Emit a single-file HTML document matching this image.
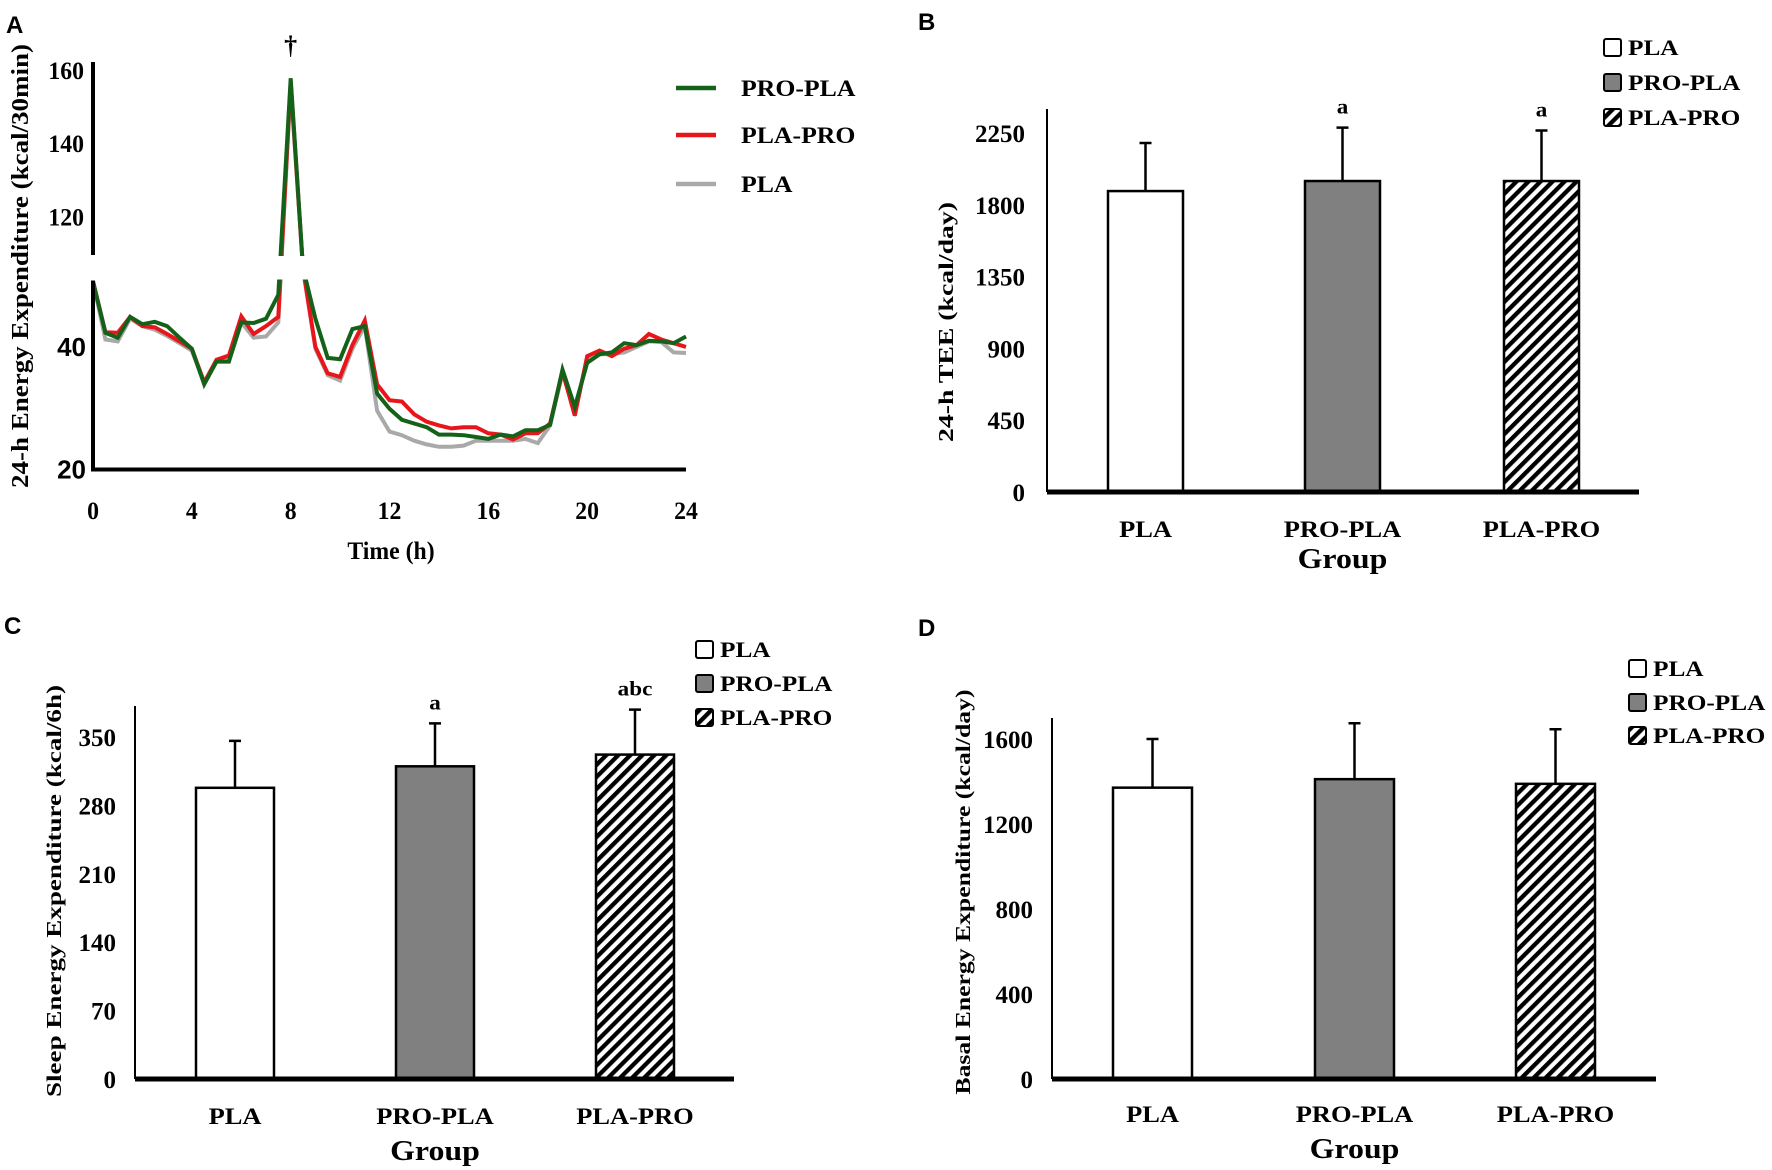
<!DOCTYPE html>
<html><head><meta charset="utf-8">
<style>
html,body{margin:0;padding:0;background:#fff;}
svg{display:block;}
text{font-family:"Liberation Serif",serif;font-weight:bold;fill:#000;}
.sans{font-family:"Liberation Sans",sans-serif;}
</style></head>
<body>
<svg id="fig" width="1772" height="1170" viewBox="0 0 1772 1170" xmlns="http://www.w3.org/2000/svg">
<defs>
<pattern id="hatch" patternUnits="userSpaceOnUse" width="8.5" height="8.5" patternTransform="rotate(45)">
<rect width="8.5" height="8.5" fill="#fff"/>
<rect width="4.3" height="8.5" fill="#000"/>
</pattern>
</defs>
<g id="pA"></g>
<g id="pB"></g>
<g id="pC"></g>
<g id="pD"></g>
</svg>
<script>
// ---------- Panel A data ----------
const timeHours = [0,0.5,1,1.5,2,2.5,3,3.5,4,4.5,5,5.5,6,6.5,7,7.5,8,8.5,9,9.5,10,10.5,11,11.5,12,12.5,13,13.5,14,14.5,15,15.5,16,16.5,17,17.5,18,18.5,19,19.5,20,20.5,21,21.5,22,22.5,23,23.5,24];
const proPlaValues = [50.7,42.3,41.5,44.9,43.7,44.1,43.4,41.5,39.7,33.9,37.6,37.6,44,43.9,44.6,48.5,158,80,44.6,38.2,38,42.9,43.4,32.4,29.9,28.1,27.5,26.9,25.7,25.7,25.6,25.3,25,25.7,25.4,26.4,26.4,27.3,36.3,30.2,37.4,38.8,39.1,40.6,40.3,41,40.9,40.6,41.7];
const plaProValues = [50.7,42.4,42.3,44.9,43.4,43.2,42.1,40.9,39.7,34.2,37.9,38.6,45,42.1,43.4,44.9,157,78,40,35.7,35.1,40.3,44.3,33.9,31.3,31.1,29,27.8,27.2,26.7,26.9,26.9,25.9,25.7,24.9,25.9,25.9,27.5,36,28.8,38.5,39.4,38.5,39.7,40.3,42.1,41.2,40.6,40];
const plaValues = [50.7,41.2,40.9,44.6,43.4,42.8,41.8,40.6,39.4,34.2,37.6,38.2,44,41.5,41.7,44,156,77,39.7,35.4,34.5,39.7,43.4,29.6,26.2,25.6,24.7,24.1,23.7,23.7,23.9,24.7,24.7,24.7,24.7,25,24.3,27.2,35.7,29.6,37.9,38.8,38.8,39.1,40,40.9,40.8,39.1,39];
const xTicksA = [0,4,8,12,16,20,24];
const yTicksUpperA = [160,140,120];
const yTicksLowerA = [40,20];

// ---------- Bar panels data ----------
const groups = ["PLA","PRO-PLA","PLA-PRO"];
const teeMeans = [1886,1949,1949];
const teeErrTop = [2187,2284,2266];
const teeTicks = [0,450,900,1350,1800,2250];
const teeLetters = ["","a","a"];
const sleepMeans = [298,320,332];
const sleepErrTop = [346,364,378];
const sleepTicks = [0,70,140,210,280,350];
const sleepLetters = ["","a","abc"];
const basalMeans = [1371,1411,1389];
const basalErrTop = [1600,1674,1646];
const basalTicks = [0,400,800,1200,1600];
const basalLetters = ["","",""];

const NS="http://www.w3.org/2000/svg";
function mk(parent,tag,attrs){const e=document.createElementNS(NS,tag);for(const k in attrs)e.setAttribute(k,attrs[k]);parent.appendChild(e);return e;}
function txt(parent,x,y,s,size,anchor,sx,cls){
  const e=mk(parent,'text',{transform:`translate(${x},${y}) scale(${sx||1},1)`,'font-size':size,'text-anchor':anchor||'start'});
  if(cls)e.setAttribute('class',cls);
  e.textContent=s;return e;}

// ---------- Panel A ----------
(function(){
  const g=document.getElementById('pA');
  const x0=93, x1=686;
  const xA=t=>x0+(x1-x0)*t/24;
  const lowTop=280.5, upBot=255;
  const yA=v=>{
    if(v<=50.8) return 469.5-(v-20)*6.13;
    if(v>=109.7) return 71+(160-v)*3.66;
    return lowTop-(v-50.8)/(109.7-50.8)*(lowTop-upBot);
  };
  const lab=txt(g,6,33,"A",24,'start',1,'sans');
  
  
  const series=[[plaValues,'#a9a9a9','series-pla'],[plaProValues,'#e8161b','series-pla-pro'],[proPlaValues,'#14621a','series-pro-pla']];
  series.forEach(([vals,col,name])=>{
    const d=vals.map((v,i)=>(i?'L':'M')+xA(timeHours[i]).toFixed(1)+','+yA(v).toFixed(1)).join(' ');
    const p=mk(g,'path',{d:d,fill:'none',stroke:col,'stroke-width':4,'stroke-linejoin':'miter'});
    
    
  });
  mk(g,'rect',{x:80,y:upBot+1,width:620,height:lowTop-upBot-2,fill:'#fff'});
  const ya1=mk(g,'line',{x1:x0,y1:62,x2:x0,y2:upBot,stroke:'#000','stroke-width':4});
  
  
  const ya2=mk(g,'line',{x1:x0,y1:lowTop,x2:x0,y2:471,stroke:'#000','stroke-width':4});
  
  
  const xa=mk(g,'line',{x1:x0-2,y1:469.5,x2:x1,y2:469.5,stroke:'#000','stroke-width':4});
  
  
  yTicksUpperA.forEach(v=>{const t=txt(g,84,yA(v)+8,String(v),25,'end',0.95);
    
    });
  yTicksLowerA.forEach(v=>{const t=txt(g,86,yA(v)+9,String(v),26,'end',1,'sans');
    
    });
  xTicksA.forEach(v=>{const t=txt(g,xA(v),519,String(v),25,'middle',0.95);
    
    });
  const xt=txt(g,391,559,"Time (h)",25,'middle',0.95);
  
  
  const yt=mk(g,'text',{transform:'translate(28,266) rotate(-90)','font-size':24,'text-anchor':'middle',textLength:444,lengthAdjust:'spacingAndGlyphs'});
  yt.textContent="24-h Energy Expenditure (kcal/30min)";
  
  
  const dg=txt(g,xA(8),54,"†",26,'middle',1);
  
  
  const leg=[["PRO-PLA",'#14621a',88],["PLA-PRO",'#e8161b',135],["PLA",'#a9a9a9',184]];
  leg.forEach(([s,c,y])=>{
    const l=mk(g,'line',{x1:676,y1:y,x2:716,y2:y,stroke:c,'stroke-width':4.5});
    
    
    const t=txt(g,741,y+8,s,23,'start',1.12);
    
    
  });
})();

// ---------- Bar panel builder ----------
function barPanel(cfg,means,errTop,ticks,letters){
  const g=document.getElementById(cfg.id);
  const yv=v=>cfg.base-(v/cfg.refVal)*(cfg.base-cfg.refY);
  const lab=txt(g,cfg.labX,cfg.labY,cfg.label,24,'start',1,'sans');
  
  
  const fills=['#fff','#808080','url(#hatch)'];
  groups.forEach((grp,i)=>{
    const bx=cfg.barX[i], bw=cfg.barW;
    const top=yv(means[i]);
    const r=mk(g,'rect',{x:bx,y:top,width:bw,height:cfg.base-top,fill:fills[i],stroke:'#000','stroke-width':2.5});
    
    
    const cx=bx+bw/2, ey=yv(errTop[i]);
    const el=mk(g,'path',{d:`M${cx},${top} L${cx},${ey} M${cx-6},${ey} L${cx+6},${ey}`,stroke:'#000','stroke-width':2.5,fill:'none'});
    
    
    if(letters[i]){const t=txt(g,cx,ey-14,letters[i],21,'middle',1.1);
      
      }
    const cl=txt(g,cx,cfg.catY,grp,23,'middle',1.15);
    
    
  });
  const ya=mk(g,'line',{x1:cfg.axX,y1:cfg.axTop,x2:cfg.axX,y2:cfg.base,stroke:'#000','stroke-width':2});
  
  
  const xa=mk(g,'line',{x1:cfg.axX,y1:cfg.base,x2:cfg.axEnd,y2:cfg.base,stroke:'#000','stroke-width':5});
  
  
  ticks.forEach(v=>{const t=txt(g,cfg.tickX,yv(v)+9,String(v),25,'end',1.0);
    
    });
  const gt=txt(g,cfg.barX[1]+cfg.barW/2,cfg.groupY,"Group",29,'middle',1.1);
  
  
  const yt=mk(g,'text',{transform:`translate(${cfg.titleX},${cfg.titleY}) rotate(-90)`,'font-size':21,'text-anchor':'middle',textLength:cfg.titleLen,lengthAdjust:'spacingAndGlyphs'});
  yt.textContent=cfg.title;
  
  
  groups.forEach((grp,i)=>{
    const ly=cfg.legY[i];
    const b=mk(g,'rect',{x:cfg.legX,y:ly-8,width:17,height:17,fill:fills[i],stroke:'#000','stroke-width':2,rx:2});
    
    
    const t=txt(g,cfg.legX+24,ly+8,grp,22,'start',1.15);
    
    
  });
}

barPanel({id:'pB',label:'B',labX:918,labY:30,base:492,refVal:2250,refY:133,axX:1047,axTop:109,axEnd:1639,
  barX:[1108,1305,1504],barW:75,catY:537,groupY:568,tickX:1025,titleX:953,titleY:322,titleLen:240,
  title:"24-h TEE (kcal/day)",legX:1604,legY:[47,82,117]},teeMeans,teeErrTop,teeTicks,teeLetters);
barPanel({id:'pC',label:'C',labX:4,labY:634,base:1079,refVal:350,refY:737,axX:135,axTop:706,axEnd:734,
  barX:[196,396,596],barW:78,catY:1124,groupY:1160,tickX:116,titleX:61,titleY:891,titleLen:412,
  title:"Sleep Energy Expenditure (kcal/6h)",legX:696,legY:[649,683,717]},sleepMeans,sleepErrTop,sleepTicks,sleepLetters);
barPanel({id:'pD',label:'D',labX:918,labY:636,base:1079,refVal:1600,refY:739,axX:1052,axTop:718,axEnd:1656,
  barX:[1113,1315,1516],barW:79,catY:1122,groupY:1158,tickX:1033,titleX:970,titleY:892,titleLen:405,
  title:"Basal Energy Expenditure (kcal/day)",legX:1629,legY:[668,702,735]},basalMeans,basalErrTop,basalTicks,basalLetters);
</script>
</body></html>
